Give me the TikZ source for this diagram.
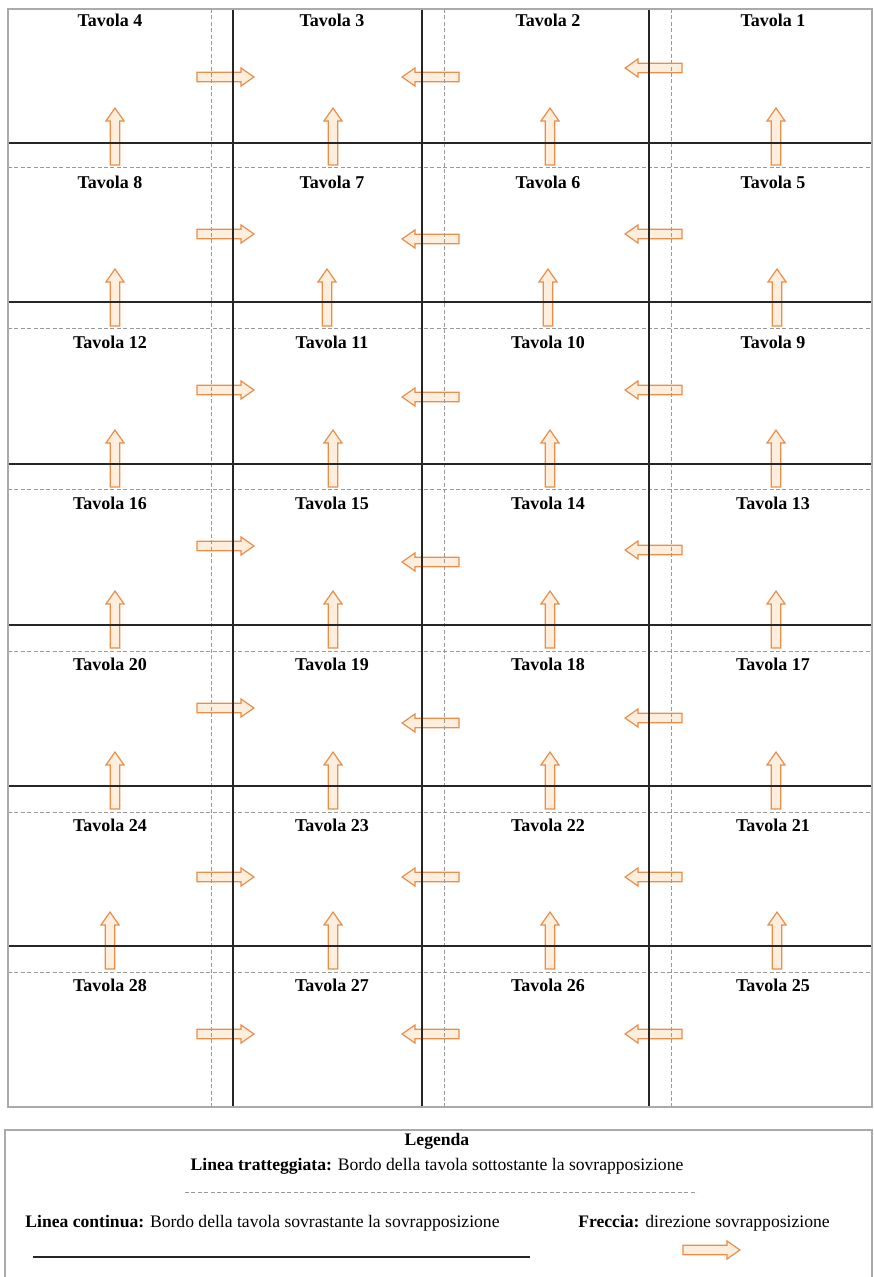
\documentclass[tikz,border=0pt]{standalone}
\usepackage{fontspec}
\setmainfont{Liberation Serif}
\usetikzlibrary{shapes.arrows,positioning}
\definecolor{frbordo}{RGB}{232,142,72}
\definecolor{frfondo}{RGB}{253,238,222}
\definecolor{grigioc}{RGB}{170,170,170}
\tikzset{
  sopra/.style   ={draw=black!85, line width=1pt},
  sotto/.style   ={draw=black!40, line width=0.5pt, dash pattern=on 2pt off 1.2pt},
  bordo/.style   ={draw=grigioc, line width=0.8pt},
  tavola/.style  ={inner sep=0pt, font=\fontsize{9}{10}\selectfont\bfseries},
  legtesto/.style={inner sep=0pt, font=\fontsize{8.8}{10}\selectfont},
  freccia/.style ={single arrow, draw=frbordo, fill=frfondo, line width=0.6pt,
                   text height=4.2pt, text depth=0pt, text width=0pt,
                   minimum height=28.5pt, minimum width=8.5pt, inner sep=0pt,
                   single arrow head extend=2.1pt, single arrow tip angle=70},
}

\begin{document}
\begin{tikzpicture}[x=0.5pt, y=-0.5pt]
\useasboundingbox (0,0) rectangle (873,1277);

% frecce verticali (sotto le linee)
\foreach \k/\yf/\xa/\xb/\xc/\xd in {1/140/115/333/550/776, 2/301/115/327/548/777,
    3/462/115/333/550/776, 4/623/115/333/550/776, 5/784/115/333/550/776,
    6/944/110/333/550/777}{
  \node[freccia, rotate=90] (fv\k a) at (\xa,\yf) {};
  \node[freccia, rotate=90] (fv\k b) at (\xb,\yf) {};
  \node[freccia, rotate=90] (fv\k c) at (\xc,\yf) {};
  \node[freccia, rotate=90] (fv\k d) at (\xd,\yf) {};
}
% frecce orizzontali
\foreach \r/\ya/\yb/\yc in {1/77/77/68, 2/234/239/234, 3/390/397/390, 4/546/562/550,
    5/708/723/718, 6/877/877/877, 7/1034/1034/1034}{
  \node[freccia] (fo\r a) at (222,\ya) {};
  \node[freccia, rotate=180] (fo\r b) at (434,\yb) {};
  \node[freccia, rotate=180] (fo\r c) at (657,\yc) {};
}

% griglia
\foreach \x in {211,444,671} \draw[sotto] (\x,9) -- (\x,1107);
\foreach \y in {168,329,490,651,812,972} \draw[sotto] (8,\y) -- (872,\y);
\foreach \x in {233,422,649} \draw[sopra] (\x,9) -- (\x,1107);
\foreach \y in {143,302,464,625,786,946} \draw[sopra] (8,\y) -- (872,\y);
\draw[bordo] (8,9) rectangle (872,1107);

% etichette delle tavole
\foreach \r/\yl in {0/20,1/182,2/342,3/503,4/664,5/825,6/985}{
  \foreach \c/\xl in {0/110,1/332,2/548,3/773}{
    \pgfmathtruncatemacro\n{4*\r+4-\c}
    \node[tavola] (t\n) at (\xl,\yl) {Tavola \n};
  }
}

% legenda
\draw[bordo] (5,1290) -- (5,1130) -- (872,1130) -- (872,1290);
\node[legtesto, font=\fontsize{8.8}{10}\selectfont\bfseries] (leg) at (437,1141) {Legenda};
\node[legtesto, below=4pt of leg] (tratt)
  {\textbf{Linea tratteggiata:} Bordo della tavola sottostante la sovrapposizione};
\draw[sotto] (185,1192) -- (697,1192);
\node[legtesto, anchor=west] (cont) at (25,1223)
  {\textbf{Linea continua:} Bordo della tavola sovrastante la sovrapposizione};
\draw[sopra, line width=1.4pt] (33,1257) -- (530,1257);
\node[legtesto] (frec) at (704,1223) {\textbf{Freccia:} direzione sovrapposizione};
\node[freccia] (frleg) at (708,1250) {};
\end{tikzpicture}
\end{document}
